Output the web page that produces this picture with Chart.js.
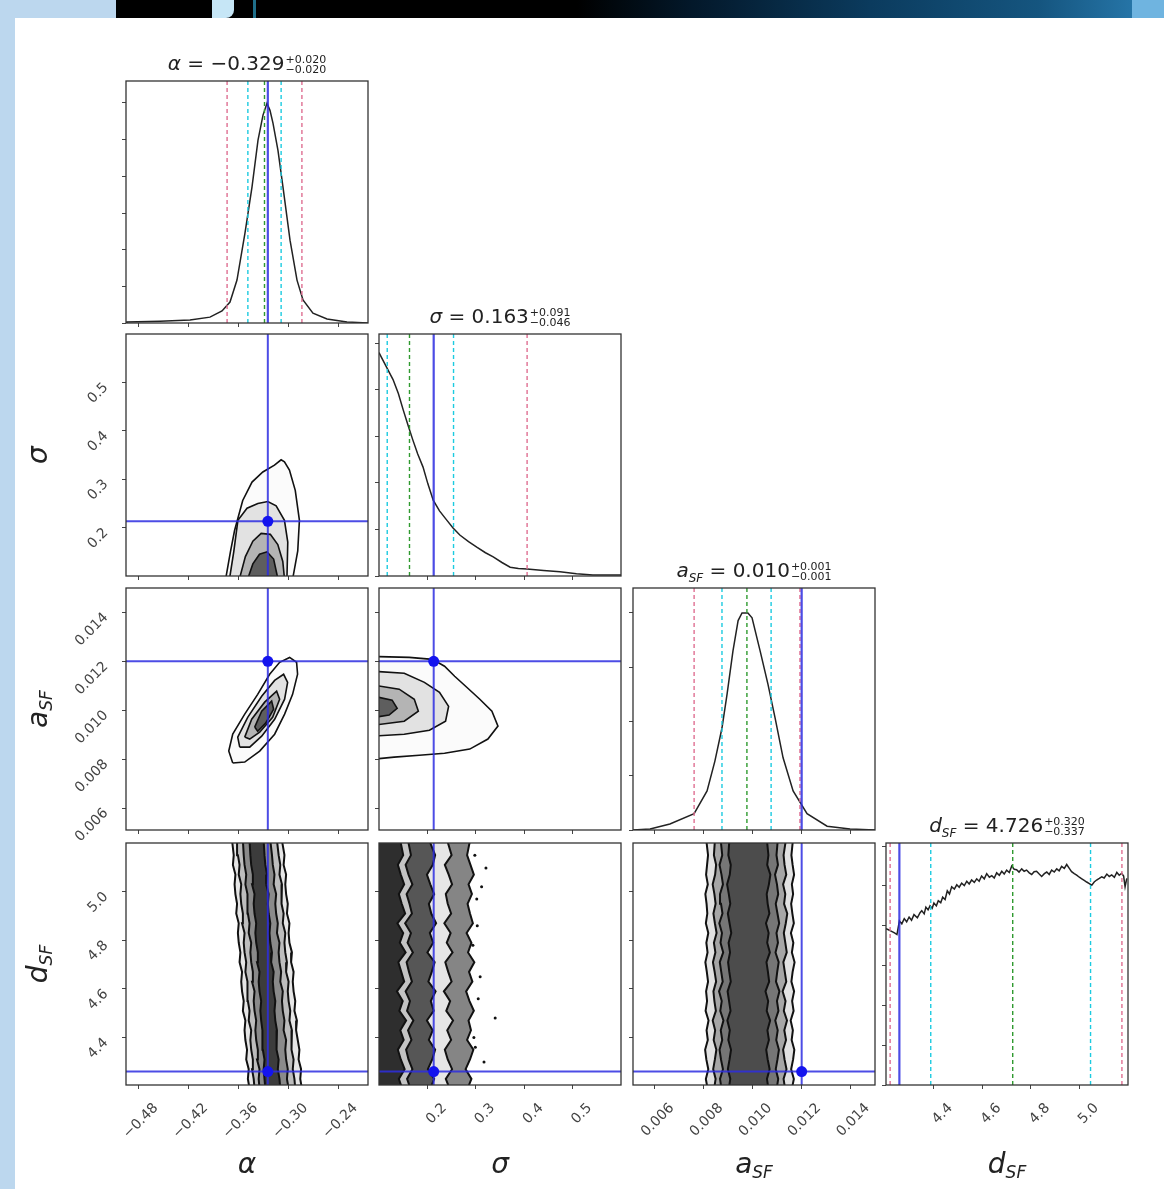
<!DOCTYPE html>
<html>
<head>
<meta charset="utf-8">
<script src="https://cdn.jsdelivr.net/npm/chart.js@4.4.0/dist/chart.umd.min.js"></script>
<style>
body { margin: 0; width: 1164px; height: 1189px; position: relative; background: #fff; overflow: hidden; font-family: 'DejaVu Sans', sans-serif; }
.strip { position: absolute; left: 0; top: 0; width: 15px; height: 1189px; background: #bcd7ee; }
.corner { position: absolute; left: 0; top: 0; width: 116px; height: 18px; background: #bcd7ee; }
.banner { position: absolute; left: 116px; top: 0; width: 1048px; height: 18px;
  background: linear-gradient(to right, #000 0%, #000 44%, #03182a 55%, #0b3b5e 72%, #15557f 88%, #2b7fb4 100%); }
.blob { position: absolute; left: 212px; top: 0; width: 22px; height: 18px; background: #c6e6f6; border-radius: 0 0 8px 0; }
.teal { position: absolute; left: 253px; top: 0; width: 3px; height: 18px; background: #1f6f8a; }
.edge { position: absolute; left: 1132px; top: 0; width: 32px; height: 18px; background: #6fb4e0; }
canvas { position: absolute; }
.ttl { position: absolute; width: 242px; text-align: center; font-size: 20px; line-height: 22px; color: #222; white-space: nowrap; }
.ss { display: inline-flex; flex-direction: column; font-size: 11px; line-height: 10px; vertical-align: middle; text-align: left; margin-left: 1px; }
.lab { position: absolute; width: 120px; height: 36px; line-height: 36px; text-align: center; font-style: italic; font-size: 28px; color: #222; }
.lab sub { font-size: 17px; vertical-align: -5px; }
</style>
</head>
<body>
<div class="strip"></div>
<div class="corner"></div>
<div class="banner"></div>
<div class="blob"></div>
<div class="teal"></div>
<div class="edge"></div>

<script>
// ---- data ----
const paramLabels = ['α', 'σ', 'a<sub>SF</sub>', 'd<sub>SF</sub>'];
const titleNames = ['<i>α</i>', '<i>σ</i>', '<i>a</i><sub style="font-size:12px;font-style:italic">SF</sub>', '<i>d</i><sub style="font-size:12px;font-style:italic">SF</sub>'];
const medians = [-0.329, 0.163, 0.010, 4.726];
const errPlus = [0.020, 0.091, 0.001, 0.320];
const errMinus = [0.020, 0.046, 0.001, 0.337];

const alphaRange = [-0.4956, -0.2045];
const sigmaRange = [0.1, 0.6];
const aRange = [0.0051, 0.0150];
const dRange = [4.205, 5.2];

const alphaTicks = [-0.48, -0.42, -0.36, -0.30, -0.24];
const sigmaTicks = [0.2, 0.3, 0.4, 0.5];
const aTicks = [0.006, 0.008, 0.010, 0.012, 0.014];
const dTicks = [4.4, 4.6, 4.8, 5.0];

const truths = [-0.325, 0.213, 0.012, 4.26];

// quantile lines on the diagonal: [pink low, cyan low, green median, cyan high, pink high]
const alphaQuant = [-0.374, -0.349, -0.329, -0.309, -0.284];
const sigmaQuant = [null, 0.117, 0.163, 0.254, 0.406];
const aQuant = [0.0076, 0.00874, 0.00976, 0.01075, 0.01193];
const dQuant = [4.222, 4.389, 4.726, 5.046, 5.175];

// 1D histograms
const alphaHistX = [-0.4956, -0.4944, -0.4547, -0.4186, -0.3946, -0.3801, -0.3705, -0.3621, -0.3525, -0.3440, -0.3368, -0.3308, -0.3260, -0.3224, -0.3188, -0.3128, -0.3068, -0.2983, -0.2899, -0.2827, -0.2707, -0.2538, -0.2298, -0.2045];
const alphaHistY = [0.02, 0.03, 0.05, 0.08, 0.16, 0.33, 0.57, 1.17, 2.45, 3.71, 4.99, 5.67, 5.99, 5.80, 5.45, 4.71, 3.71, 2.26, 1.17, 0.63, 0.27, 0.11, 0.03, 0.0];
const alphaHistMax = 6.6;
const alphaHistTicks = [0, 1, 2, 3, 4, 5, 6];

const sigmaHistX = [0.100, 0.104, 0.115, 0.129, 0.140, 0.150, 0.160, 0.170, 0.180, 0.191, 0.201, 0.212, 0.225, 0.240, 0.253, 0.267, 0.285, 0.302, 0.320, 0.336, 0.354, 0.371, 0.388, 0.406, 0.440, 0.474, 0.508, 0.542, 0.575, 0.600];
const sigmaHistY = [4.80, 4.72, 4.50, 4.22, 3.92, 3.57, 3.24, 2.92, 2.62, 2.34, 1.98, 1.63, 1.40, 1.20, 1.03, 0.88, 0.74, 0.62, 0.50, 0.41, 0.29, 0.19, 0.16, 0.15, 0.12, 0.09, 0.05, 0.02, 0.02, 0.02];
const sigmaHistMax = 5.2;
const sigmaHistTicks = [0, 1, 2, 3, 4, 5];

const aHistX = [0.0051, 0.0058, 0.00661, 0.0076, 0.00813, 0.00845, 0.00874, 0.00895, 0.00919, 0.0094, 0.00956, 0.0098, 0.00997, 0.0103, 0.01062, 0.01091, 0.01124, 0.01165, 0.01222, 0.01304, 0.01398, 0.0150];
const aHistY = [0.0, 0.02, 0.11, 0.30, 0.72, 1.27, 1.88, 2.51, 3.30, 3.86, 4.00, 4.00, 3.91, 3.30, 2.69, 2.07, 1.33, 0.72, 0.30, 0.07, 0.02, 0.0];
const aHistMax = 4.46;
const aHistTicks = [0, 1, 2, 3, 4];

const dHistX = [4.205, 4.215, 4.228, 4.240, 4.250, 4.260, 4.270, 4.280, 4.290, 4.300, 4.310, 4.320, 4.334, 4.345, 4.352, 4.362, 4.369, 4.378, 4.386, 4.395, 4.402, 4.412, 4.420, 4.430, 4.438, 4.448, 4.457, 4.466, 4.475, 4.486, 4.496, 4.506, 4.516, 4.527, 4.537, 4.547, 4.557, 4.568, 4.578, 4.588, 4.598, 4.609, 4.619, 4.630, 4.640, 4.650, 4.660, 4.671, 4.681, 4.691, 4.701, 4.712, 4.722, 4.732, 4.742, 4.752, 4.763, 4.773, 4.783, 4.794, 4.804, 4.814, 4.824, 4.835, 4.845, 4.856, 4.866, 4.876, 4.886, 4.897, 4.907, 4.917, 4.927, 4.938, 4.948, 4.958, 4.968, 4.979, 4.989, 5.000, 5.010, 5.020, 5.030, 5.041, 5.051, 5.061, 5.071, 5.082, 5.092, 5.102, 5.113, 5.123, 5.133, 5.144, 5.154, 5.164, 5.174, 5.182, 5.188, 5.195];
const dHistY = [3.93, 3.90, 3.86, 3.82, 3.78, 4.12, 4.05, 4.18, 4.10, 4.22, 4.14, 4.28, 4.20, 4.33, 4.38, 4.30, 4.47, 4.40, 4.50, 4.44, 4.57, 4.50, 4.63, 4.58, 4.72, 4.66, 4.88, 4.80, 4.98, 4.92, 5.03, 4.97, 5.07, 5.01, 5.12, 5.05, 5.15, 5.09, 5.18, 5.12, 5.25, 5.18, 5.31, 5.22, 5.26, 5.20, 5.33, 5.27, 5.37, 5.30, 5.40, 5.34, 5.50, 5.42, 5.41, 5.35, 5.43, 5.37, 5.40, 5.33, 5.29, 5.36, 5.37, 5.30, 5.24, 5.31, 5.35, 5.29, 5.40, 5.35, 5.43, 5.38, 5.49, 5.44, 5.54, 5.45, 5.36, 5.31, 5.27, 5.22, 5.18, 5.14, 5.10, 5.06, 5.02, 5.10, 5.15, 5.19, 5.23, 5.20, 5.30, 5.24, 5.28, 5.22, 5.34, 5.27, 5.32, 5.25, 4.98, 5.19];
const dHistMax = 6.08;
const dHistTicks = [0, 1, 2, 3, 4, 5, 6];

// 2D contours, outer to inner, as [x, y] in data units
const alphaSigmaL1 = [[-0.3756, 0.095], [-0.370, 0.150], [-0.365, 0.194], [-0.3552, 0.256], [-0.344, 0.294], [-0.331, 0.315], [-0.317, 0.329], [-0.309, 0.340], [-0.305, 0.336], [-0.299, 0.319], [-0.292, 0.277], [-0.287, 0.215], [-0.289, 0.152], [-0.295, 0.095]];
const alphaSigmaL2 = [[-0.371, 0.095], [-0.366, 0.150], [-0.361, 0.215], [-0.350, 0.240], [-0.337, 0.250], [-0.325, 0.254], [-0.315, 0.245], [-0.305, 0.215], [-0.301, 0.170], [-0.302, 0.095]];
const alphaSigmaL3 = [[-0.359, 0.095], [-0.352, 0.140], [-0.343, 0.172], [-0.333, 0.188], [-0.322, 0.186], [-0.313, 0.165], [-0.307, 0.130], [-0.305, 0.095]];
const alphaSigmaL4 = [[-0.349, 0.095], [-0.343, 0.125], [-0.335, 0.145], [-0.326, 0.150], [-0.318, 0.135], [-0.313, 0.095]];

const alphaAL1 = [[-0.3672, 0.00784], [-0.372, 0.00833], [-0.3672, 0.00902], [-0.3528, 0.00984], [-0.3372, 0.01065], [-0.3228, 0.01147], [-0.3108, 0.01196], [-0.2988, 0.01216], [-0.2904, 0.01196], [-0.2892, 0.01147], [-0.2952, 0.01065], [-0.3048, 0.00984], [-0.3168, 0.00902], [-0.3348, 0.00833], [-0.3528, 0.00788]];
const alphaAL2 = [[-0.3588, 0.00849], [-0.3612, 0.0089], [-0.3492, 0.00971], [-0.3324, 0.01057], [-0.3168, 0.01122], [-0.306, 0.01147], [-0.3012, 0.01114], [-0.3048, 0.01045], [-0.3168, 0.00963], [-0.3324, 0.00894], [-0.3468, 0.00849]];
const alphaAL3 = [[-0.3528, 0.0089], [-0.3444, 0.00963], [-0.3288, 0.01033], [-0.3144, 0.01078], [-0.3108, 0.01045], [-0.3192, 0.00971], [-0.3348, 0.0091], [-0.3468, 0.00882]];
const alphaAL4 = [[-0.3408, 0.00931], [-0.3324, 0.00996], [-0.3204, 0.01037], [-0.318, 0.01004], [-0.3276, 0.00947], [-0.3372, 0.00914]];

const sigmaAL1 = [[0.09, 0.0122], [0.1625, 0.01216], [0.2104, 0.01208], [0.2354, 0.0118], [0.2563, 0.01139], [0.2813, 0.01094], [0.3083, 0.01045], [0.3333, 0.00996], [0.3458, 0.00935], [0.325, 0.00882], [0.2875, 0.00841], [0.2354, 0.00824], [0.1833, 0.00816], [0.1313, 0.00808], [0.09, 0.008]];
const sigmaAL2 = [[0.09, 0.01159], [0.1521, 0.01151], [0.1938, 0.01114], [0.225, 0.01073], [0.2438, 0.01016], [0.2375, 0.00955], [0.2042, 0.00918], [0.1521, 0.00902], [0.09, 0.00894]];
const sigmaAL3 = [[0.09, 0.01102], [0.1417, 0.01086], [0.1729, 0.01045], [0.1813, 0.00996], [0.1521, 0.00955], [0.09, 0.00939]];
const sigmaAL4 = [[0.09, 0.01057], [0.1271, 0.01041], [0.1375, 0.01008], [0.1208, 0.0098], [0.09, 0.00971]];

// bottom row: contour edges along d_SF
const dGrid = [4.19, 4.23, 4.27, 4.31, 4.35, 4.39, 4.43, 4.47, 4.51, 4.55, 4.59, 4.63, 4.67, 4.71, 4.75, 4.79, 4.83, 4.87, 4.91, 4.95, 4.99, 5.03, 5.07, 5.11, 5.15, 5.21];

const alphaDL1 = [-0.347, -0.349, -0.348, -0.351, -0.350, -0.352, -0.353, -0.352, -0.355, -0.354, -0.356, -0.357, -0.356, -0.359, -0.358, -0.360, -0.361, -0.360, -0.363, -0.362, -0.364, -0.365, -0.364, -0.367, -0.366, -0.368];
const alphaDR1 = [-0.284, -0.286, -0.285, -0.288, -0.287, -0.289, -0.291, -0.290, -0.293, -0.292, -0.294, -0.295, -0.294, -0.297, -0.296, -0.299, -0.300, -0.299, -0.302, -0.301, -0.303, -0.304, -0.303, -0.306, -0.305, -0.308];
const alphaDL2 = [-0.341, -0.342, -0.344, -0.343, -0.345, -0.346, -0.345, -0.348, -0.347, -0.349, -0.350, -0.349, -0.352, -0.351, -0.353, -0.354, -0.353, -0.356, -0.355, -0.357, -0.358, -0.357, -0.360, -0.359, -0.361, -0.362];
const alphaDR2 = [-0.292, -0.293, -0.295, -0.294, -0.296, -0.297, -0.296, -0.299, -0.298, -0.300, -0.301, -0.300, -0.303, -0.302, -0.304, -0.305, -0.304, -0.307, -0.306, -0.308, -0.309, -0.308, -0.311, -0.310, -0.312, -0.314];
const alphaDL3 = [-0.335, -0.336, -0.335, -0.338, -0.337, -0.339, -0.340, -0.339, -0.341, -0.342, -0.341, -0.344, -0.343, -0.345, -0.346, -0.345, -0.348, -0.347, -0.349, -0.350, -0.349, -0.352, -0.351, -0.353, -0.354, -0.355];
const alphaDR3 = [-0.300, -0.302, -0.301, -0.303, -0.304, -0.303, -0.306, -0.305, -0.307, -0.308, -0.307, -0.310, -0.309, -0.311, -0.312, -0.311, -0.314, -0.313, -0.315, -0.316, -0.315, -0.318, -0.317, -0.319, -0.320, -0.322];
const alphaDL4 = [-0.328, -0.329, -0.330, -0.329, -0.331, -0.332, -0.331, -0.333, -0.334, -0.333, -0.335, -0.336, -0.335, -0.338, -0.337, -0.339, -0.340, -0.339, -0.341, -0.342, -0.341, -0.344, -0.343, -0.345, -0.346, -0.347];
const alphaDR4 = [-0.310, -0.311, -0.313, -0.312, -0.314, -0.315, -0.314, -0.316, -0.317, -0.316, -0.318, -0.319, -0.318, -0.321, -0.320, -0.322, -0.323, -0.322, -0.324, -0.325, -0.324, -0.327, -0.326, -0.328, -0.329, -0.330];

const sigmaDR1 = [0.283, 0.291, 0.279, 0.288, 0.295, 0.282, 0.290, 0.285, 0.296, 0.287, 0.280, 0.293, 0.286, 0.297, 0.284, 0.291, 0.281, 0.294, 0.288, 0.283, 0.292, 0.285, 0.296, 0.289, 0.282, 0.288];
const sigmaDR2 = [0.246, 0.238, 0.251, 0.242, 0.236, 0.249, 0.241, 0.253, 0.239, 0.247, 0.234, 0.250, 0.243, 0.237, 0.252, 0.240, 0.248, 0.235, 0.249, 0.242, 0.238, 0.251, 0.244, 0.236, 0.250, 0.241];
const sigmaDR3 = [0.206, 0.214, 0.201, 0.210, 0.216, 0.203, 0.211, 0.199, 0.213, 0.207, 0.217, 0.202, 0.209, 0.215, 0.200, 0.212, 0.205, 0.218, 0.208, 0.203, 0.214, 0.206, 0.199, 0.211, 0.216, 0.204];
const sigmaDR4 = [0.165, 0.158, 0.169, 0.161, 0.156, 0.167, 0.160, 0.171, 0.158, 0.164, 0.155, 0.168, 0.162, 0.157, 0.170, 0.159, 0.166, 0.154, 0.168, 0.163, 0.157, 0.169, 0.161, 0.155, 0.166, 0.160];
const sigmaDR5 = [0.148, 0.141, 0.153, 0.145, 0.139, 0.151, 0.144, 0.156, 0.142, 0.149, 0.137, 0.152, 0.146, 0.140, 0.155, 0.143, 0.150, 0.138, 0.154, 0.147, 0.141, 0.152, 0.145, 0.139, 0.150, 0.144];
const sigmaDScatterS = [0.321, 0.340, 0.317, 0.302, 0.305, 0.294, 0.298, 0.309, 0.296, 0.303, 0.312, 0.299];
const sigmaDScatterD = [5.097, 4.48, 4.30, 4.97, 4.56, 4.78, 5.15, 4.65, 4.40, 4.86, 5.02, 4.36];

const aDL1 = [0.00815, 0.00808, 0.00818, 0.00810, 0.00805, 0.00816, 0.00811, 0.00819, 0.00807, 0.00813, 0.00809, 0.00817, 0.00812, 0.00806, 0.00815, 0.00810, 0.00818, 0.00808, 0.00814, 0.00811, 0.00806, 0.00816, 0.00809, 0.00813, 0.00817, 0.00810];
const aDR1 = [0.01160, 0.01168, 0.01157, 0.01165, 0.01170, 0.01159, 0.01164, 0.01155, 0.01167, 0.01161, 0.01169, 0.01158, 0.01163, 0.01171, 0.01160, 0.01166, 0.01156, 0.01168, 0.01162, 0.01157, 0.01165, 0.01160, 0.01169, 0.01163, 0.01158, 0.01164];
const aDL2 = [0.00842, 0.00848, 0.00838, 0.00845, 0.00851, 0.00840, 0.00846, 0.00836, 0.00849, 0.00843, 0.00839, 0.00850, 0.00844, 0.00837, 0.00847, 0.00841, 0.00852, 0.00845, 0.00839, 0.00848, 0.00843, 0.00836, 0.00846, 0.00850, 0.00841, 0.00845];
const aDR2 = [0.01132, 0.01126, 0.01138, 0.01130, 0.01124, 0.01136, 0.01129, 0.01140, 0.01127, 0.01134, 0.01122, 0.01137, 0.01131, 0.01125, 0.01139, 0.01133, 0.01127, 0.01135, 0.01141, 0.01128, 0.01133, 0.01124, 0.01137, 0.01130, 0.01126, 0.01135];
const aDL3 = [0.00872, 0.00866, 0.00878, 0.00870, 0.00864, 0.00875, 0.00869, 0.00880, 0.00867, 0.00873, 0.00862, 0.00877, 0.00871, 0.00865, 0.00879, 0.00868, 0.00874, 0.00863, 0.00876, 0.00870, 0.00866, 0.00878, 0.00872, 0.00864, 0.00875, 0.00869];
const aDR3 = [0.01098, 0.01104, 0.01094, 0.01101, 0.01107, 0.01096, 0.01102, 0.01092, 0.01105, 0.01099, 0.01109, 0.01095, 0.01100, 0.01106, 0.01093, 0.01103, 0.01097, 0.01108, 0.01101, 0.01094, 0.01104, 0.01099, 0.01091, 0.01103, 0.01097, 0.01102];
const aDL4 = [0.00902, 0.00908, 0.00898, 0.00905, 0.00911, 0.00900, 0.00906, 0.00896, 0.00909, 0.00903, 0.00897, 0.00910, 0.00904, 0.00899, 0.00907, 0.00901, 0.00912, 0.00905, 0.00898, 0.00908, 0.00902, 0.00895, 0.00906, 0.00910, 0.00900, 0.00904];
const aDR4 = [0.01064, 0.01058, 0.01069, 0.01061, 0.01055, 0.01066, 0.01060, 0.01071, 0.01057, 0.01063, 0.01052, 0.01067, 0.01062, 0.01056, 0.01070, 0.01059, 0.01065, 0.01054, 0.01068, 0.01061, 0.01057, 0.01066, 0.01072, 0.01059, 0.01064, 0.01058];

// ---- styling / layout ----
const boxX = [126, 379, 633, 886];
const boxY = [81, 334, 588, 843];
const BOX = 242;
const TRUTH = 'rgba(45, 45, 225, 0.85)';
const PINK = '#df6f92', CYAN = '#1ccbe0', GREEN = '#2f9a2f';
const smoothFills = ['#fbfbfb', '#e2e2e2', '#b4b4b4', '#5e5e5e'];
const alphaDFills = ['#e6e6e6', '#bdbdbd', '#8a8a8a', '#3c3c3c'];
const sigmaDFills = ['#858585', '#e6e6e6', '#565656', '#c4c4c4', '#2e2e2e'];
const aDFills = ['#e2e2e2', '#a6a6a6', '#767676', '#4c4c4c'];

const minus = s => s.replace('-', '\u2212');
const axes = {
  alpha: { range: alphaRange, ticks: alphaTicks, fmt: v => minus(v.toFixed(2)) },
  sigma: { range: sigmaRange, ticks: sigmaTicks, fmt: v => v.toFixed(1) },
  a: { range: aRange, ticks: aTicks, fmt: v => v.toFixed(3) },
  d: { range: dRange, ticks: dTicks, fmt: v => v.toFixed(1) }
};
const axisOrder = ['alpha', 'sigma', 'a', 'd'];

// fills contour polygons from the element positions the scales computed, draws the frame
const cornerPlugin = {
  id: 'corner',
  beforeDatasetsDraw(chart) {
    const { ctx, chartArea: a } = chart;
    ctx.save();
    ctx.beginPath();
    ctx.rect(a.left, a.top, a.width, a.height);
    ctx.clip();
    chart.data.datasets.forEach((ds, i) => {
      if (!ds.shade) return;
      const pts = chart.getDatasetMeta(i).data;
      ctx.beginPath();
      pts.forEach((p, j) => j ? ctx.lineTo(p.x, p.y) : ctx.moveTo(p.x, p.y));
      ctx.closePath();
      ctx.fillStyle = ds.shade;
      ctx.fill();
    });
    ctx.restore();
  },
  afterDraw(chart) {
    const { ctx, chartArea: a } = chart;
    ctx.save();
    ctx.strokeStyle = '#333';
    ctx.lineWidth = 1.3;
    ctx.strokeRect(a.left, a.top, a.width, a.height);
    ctx.restore();
  }
};

function scaleOpts(ax, showLabels, dir, size) {
  return {
    type: 'linear', min: ax.range[0], max: ax.range[1],
    afterBuildTicks: s => { s.ticks = ax.ticks.map(v => ({ value: v })); },
    afterFit: s => {
      if (dir === 'x') s.height = size; else s.width = size;
      // keep the panel box fixed: no extra room for overhanging labels
      s.paddingLeft = s.paddingRight = s.paddingTop = s.paddingBottom = 0;
    },
    grid: { drawOnChartArea: false, drawTicks: true, tickLength: 4, color: '#444', lineWidth: 1 },
    border: { display: false },
    ticks: {
      display: showLabels, autoSkip: false, minRotation: 45, maxRotation: 45,
      padding: dir === 'x' ? 11 : 16,
      labelOffset: dir === 'x' ? 17 : 3,
      color: '#444', font: { family: 'DejaVu Sans', size: 14 },
      callback: v => ax.fmt ? ax.fmt(v) : ''
    }
  };
}

function line(xs, ys, color, width, dash, order) {
  return { data: xs.map((x, i) => ({ x, y: ys[i] })), showLine: true, borderColor: color, borderWidth: width,
    borderDash: dash || [], pointRadius: 0, order: order };
}
function vline(v, yr, color, width, dash) { return line([v, v], yr, color, width, dash, 2); }
function hline(v, xr, color, width) { return line(xr, [v, v], color, width, null, 2); }
function poly(pairs, fill, width) {
  const closed = pairs.concat([pairs[0]]);
  const ds = line(closed.map(p => p[0]), closed.map(p => p[1]), '#111', width, null, 5);
  ds.shade = fill;
  return ds;
}
function band(left, right, fill) {
  const pairs = left.map((v, i) => [v, dGrid[i]]).concat(right.map((v, i) => [v, dGrid[i]]).reverse());
  return poly(pairs, fill, 2);
}
function dot(x, y) {
  return { data: [{ x, y }], showLine: false, pointRadius: 5.5, pointBackgroundColor: '#1414ee', pointBorderWidth: 0, order: 0 };
}

function makePanel(row, col, xAx, yAx, datasets) {
  const L = col === 0 ? 80 : 8;
  const B = row === 3 ? 72 : (col === 0 ? 36 : 8);
  const T = 6, R = 6;
  const cv = document.createElement('canvas');
  cv.width = L + BOX + R;
  cv.height = T + BOX + B;
  cv.style.left = (boxX[col] - L) + 'px';
  cv.style.top = (boxY[row] - T) + 'px';
  document.body.appendChild(cv);
  new Chart(cv, {
    type: 'scatter',
    data: { datasets },
    options: {
      responsive: false, animation: false, devicePixelRatio: 1,
      layout: { padding: { top: T, right: R, left: 0, bottom: 0 }, autoPadding: false },
      plugins: { legend: { display: false }, tooltip: { enabled: false } },
      scales: {
        x: scaleOpts(xAx, row === 3, 'x', B),
        y: scaleOpts(yAx, col === 0 && row > 0, 'y', L)
      }
    },
    plugins: [cornerPlugin]
  });
}

// ---- diagonal histograms ----
function diag(i, hx, hy, hmax, hticks, quant) {
  const ax = axes[axisOrder[i]];
  const yAx = { range: [0, hmax], ticks: hticks, fmt: null };
  const yr = [0, hmax];
  const ds = [];
  ds.push(line(hx, hy, '#222', 1.5, null, 3));
  ds.push(vline(truths[i], yr, TRUTH, 2.2));
  const cols = [PINK, CYAN, GREEN, CYAN, PINK];
  quant.forEach((q, k) => { if (q !== null) ds.push(vline(q, yr, cols[k], 1.4, [4, 3])); });
  makePanel(i, i, ax, yAx, ds);
}
diag(0, alphaHistX, alphaHistY, alphaHistMax, alphaHistTicks, alphaQuant);
diag(1, sigmaHistX, sigmaHistY, sigmaHistMax, sigmaHistTicks, sigmaQuant);
diag(2, aHistX, aHistY, aHistMax, aHistTicks, aQuant);
diag(3, dHistX, dHistY, dHistMax, dHistTicks, dQuant);

// ---- 2D panels ----
function truthMarks(ci, ri) {
  const xr = axes[axisOrder[ci]].range, yr = axes[axisOrder[ri]].range;
  return [dot(truths[ci], truths[ri]), vline(truths[ci], yr, TRUTH, 2), hline(truths[ri], xr, TRUTH, 2)];
}

makePanel(1, 0, axes.alpha, axes.sigma, truthMarks(0, 1).concat(
  [alphaSigmaL1, alphaSigmaL2, alphaSigmaL3, alphaSigmaL4].map((c, k) => poly(c, smoothFills[k], 1.6))));

makePanel(2, 0, axes.alpha, axes.a, truthMarks(0, 2).concat(
  [alphaAL1, alphaAL2, alphaAL3, alphaAL4].map((c, k) => poly(c, smoothFills[k], 1.6))));

makePanel(2, 1, axes.sigma, axes.a, truthMarks(1, 2).concat(
  [sigmaAL1, sigmaAL2, sigmaAL3, sigmaAL4].map((c, k) => poly(c, smoothFills[k], 1.6))));

makePanel(3, 0, axes.alpha, axes.d, truthMarks(0, 3).concat([
  band(alphaDL1, alphaDR1, alphaDFills[0]), band(alphaDL2, alphaDR2, alphaDFills[1]),
  band(alphaDL3, alphaDR3, alphaDFills[2]), band(alphaDL4, alphaDR4, alphaDFills[3])]));

const sigmaEdge = dGrid.map(() => 0.09);
const scatterDs = { data: sigmaDScatterS.map((s, i) => ({ x: s, y: sigmaDScatterD[i] })), showLine: false,
  pointRadius: 1.5, pointBackgroundColor: '#111', pointBorderWidth: 0, order: 4 };
makePanel(3, 1, axes.sigma, axes.d, truthMarks(1, 3).concat(
  [sigmaDR1, sigmaDR2, sigmaDR3, sigmaDR4, sigmaDR5].map((r, k) => band(sigmaEdge, r, sigmaDFills[k])), [scatterDs]));

makePanel(3, 2, axes.a, axes.d, truthMarks(2, 3).concat([
  band(aDL1, aDR1, aDFills[0]), band(aDL2, aDR2, aDFills[1]),
  band(aDL3, aDR3, aDFills[2]), band(aDL4, aDR4, aDFills[3])]));

// ---- titles and axis labels ----
function fmtNum(v, dec) { return minus(v.toFixed(dec)); }
for (let i = 0; i < 4; i++) {
  const t = document.createElement('div');
  t.className = 'ttl';
  t.style.left = boxX[i] + 'px';
  t.style.top = (boxY[i] - 29) + 'px';
  t.innerHTML = titleNames[i] + ' = ' + fmtNum(medians[i], 3) +
    '<span class="ss"><span>+' + errPlus[i].toFixed(3) + '</span><span>\u2212' + errMinus[i].toFixed(3) + '</span></span>';
  document.body.appendChild(t);

  const xl = document.createElement('div');
  xl.className = 'lab';
  xl.style.left = (boxX[i] + 121 - 60) + 'px';
  xl.style.top = '1146px';
  xl.innerHTML = paramLabels[i];
  document.body.appendChild(xl);

  if (i > 0) {
    const yl = document.createElement('div');
    yl.className = 'lab';
    yl.style.left = (38 - 60) + 'px';
    yl.style.top = (boxY[i] + 121 - 18) + 'px';
    yl.style.transform = 'rotate(-90deg)';
    yl.innerHTML = paramLabels[i];
    document.body.appendChild(yl);
  }
}
</script>
</body>
</html>
